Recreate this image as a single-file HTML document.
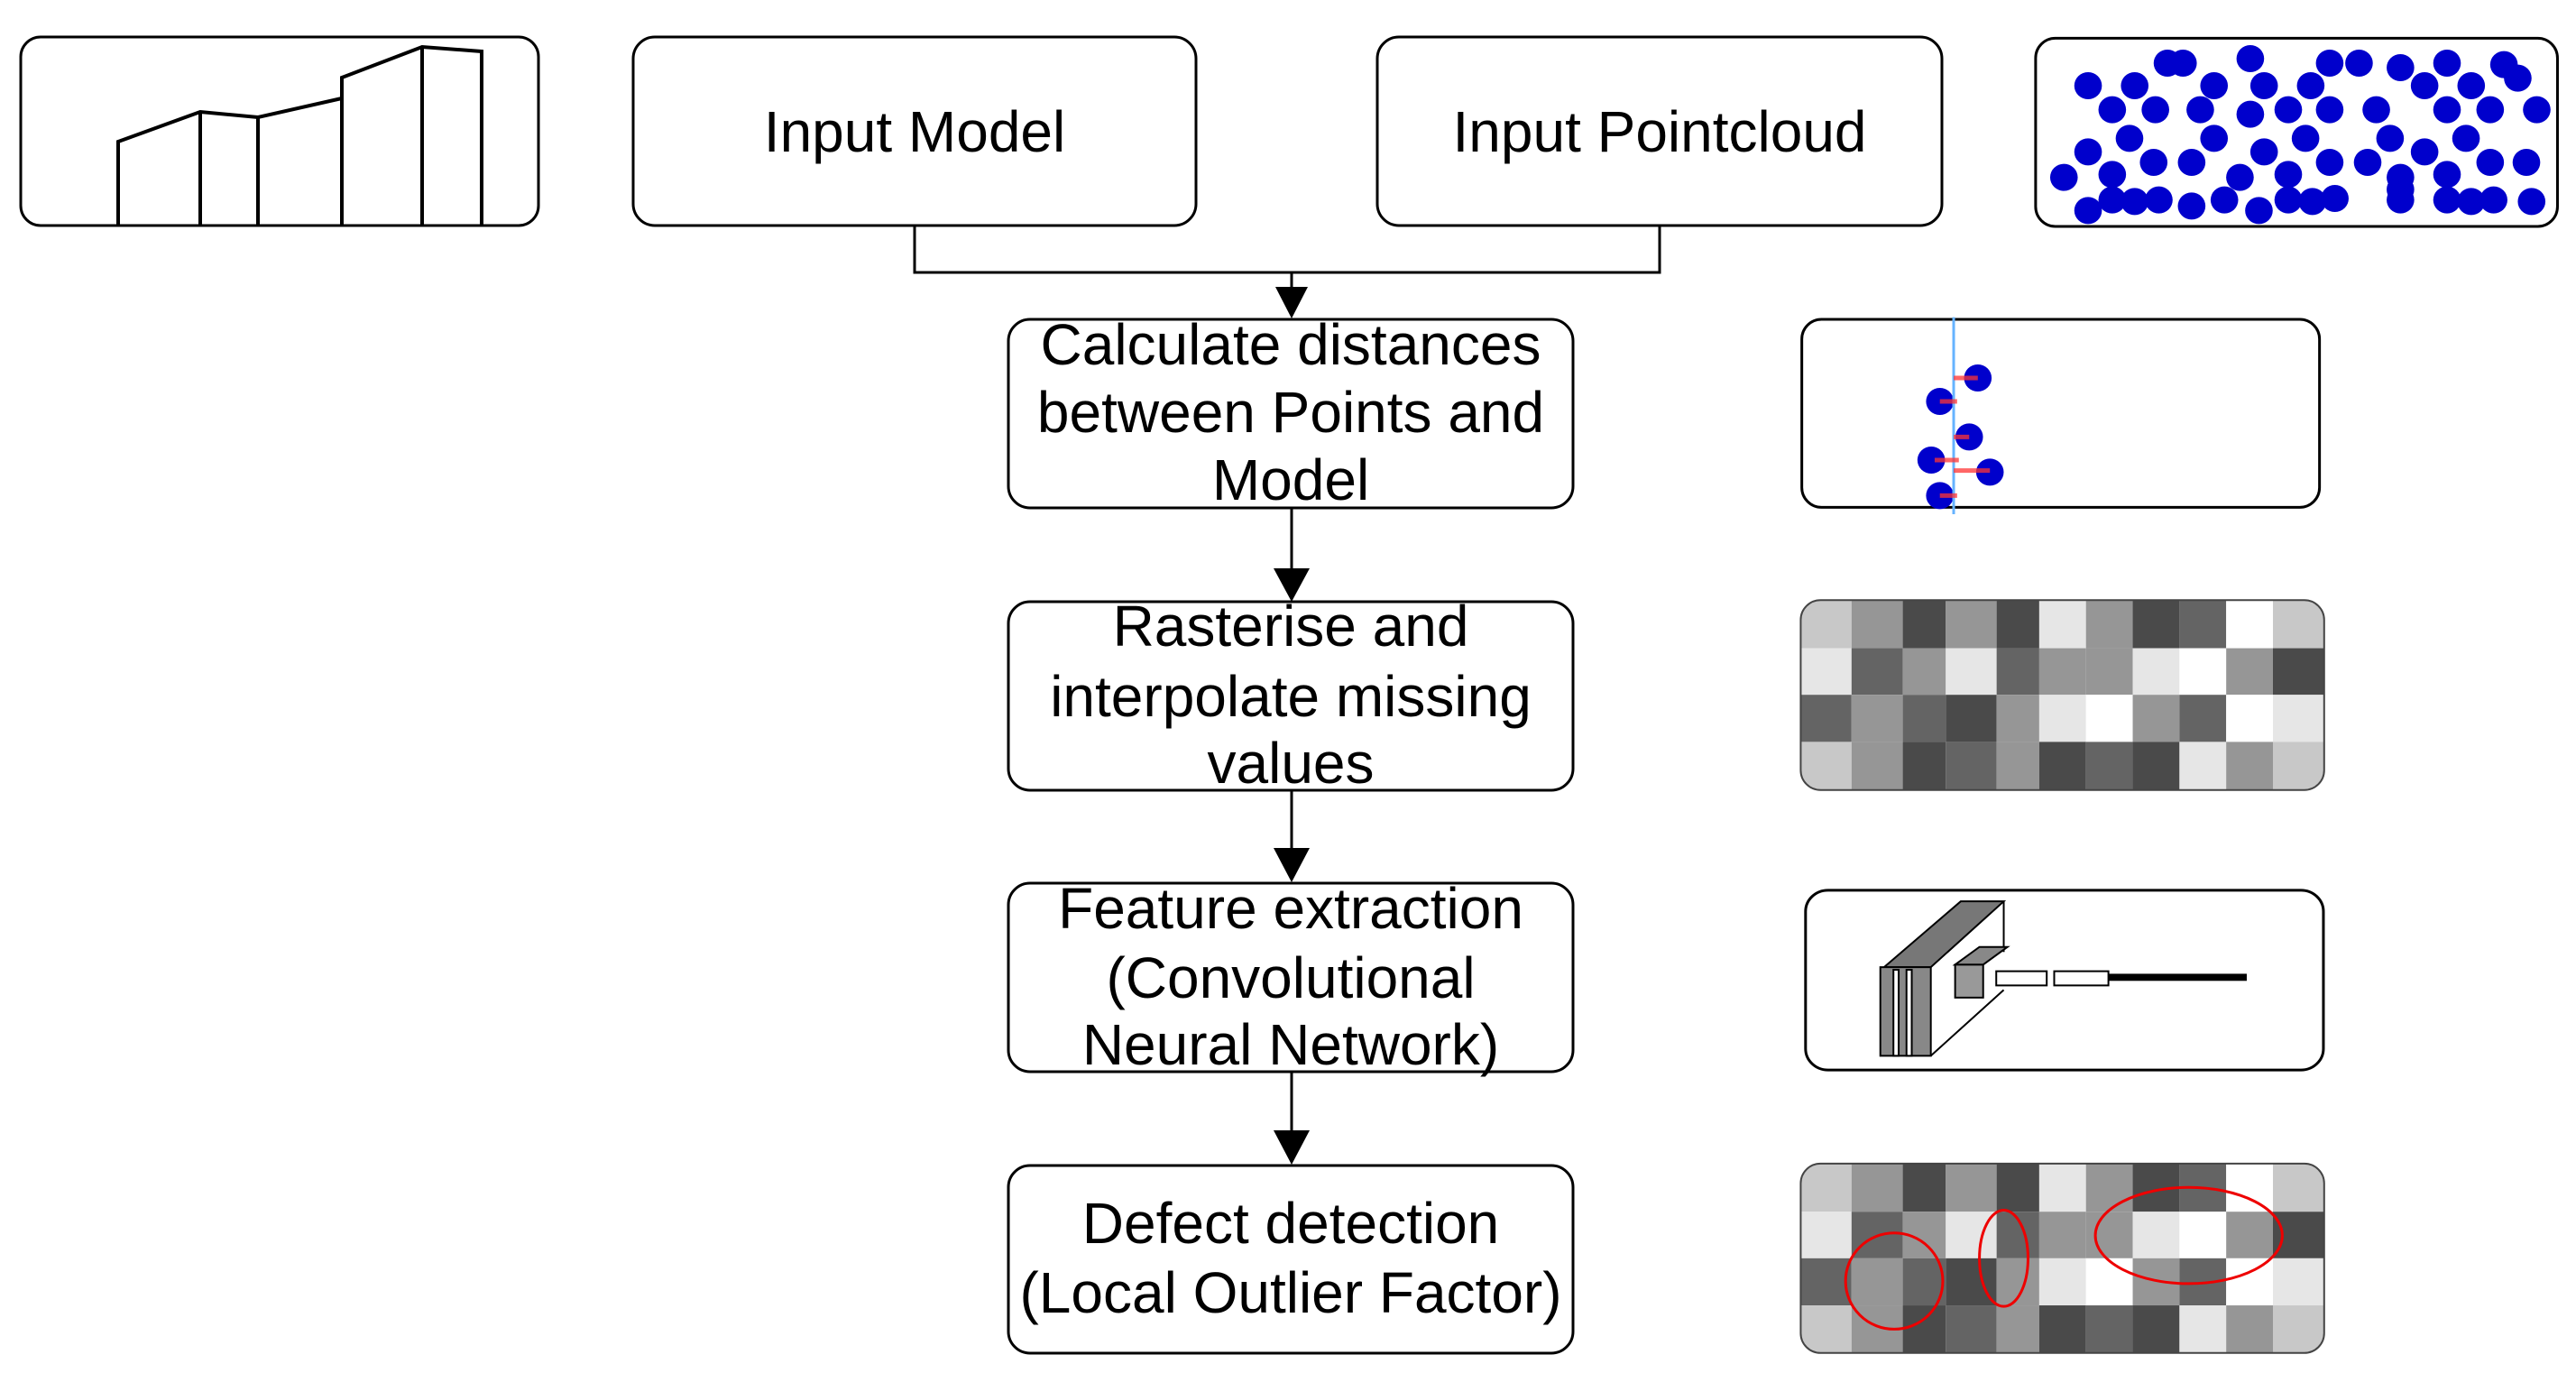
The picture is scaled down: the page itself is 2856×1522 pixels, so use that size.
<!DOCTYPE html>
<html><head><meta charset="utf-8"><style>
html,body{margin:0;padding:0;background:#fff;}
svg{display:block;}
text{font-family:"Liberation Sans",sans-serif;font-size:64px;fill:#000;}
</style></head><body>
<svg width="2856" height="1522" viewBox="0 0 2856 1522" xmlns="http://www.w3.org/2000/svg">
<defs>
<marker id="ah" markerWidth="10" markerHeight="10" refX="9" refY="5" orient="auto" markerUnits="userSpaceOnUse" viewBox="0 0 10 10">
</marker>
</defs>
<rect width="2856" height="1522" fill="#fff"/>

<!-- left model box -->
<rect x="23" y="41" width="574" height="209" rx="22" fill="#fff" stroke="#000" stroke-width="3"/>
<g stroke="#000" stroke-width="4" fill="none">
<polyline points="131,250 131,157 222,124 286,130 379,109 379,86 468,52 534,57 534,250"/>
<line x1="222" y1="124" x2="222" y2="250"/>
<line x1="286" y1="130" x2="286" y2="250"/>
<line x1="379" y1="109" x2="379" y2="250"/>
<line x1="468" y1="52" x2="468" y2="250"/>
</g>

<!-- Input boxes -->
<rect x="702" y="41" width="624" height="209" rx="24" fill="#fff" stroke="#000" stroke-width="3"/>
<text x="1014" y="168" text-anchor="middle">Input Model</text>
<rect x="1527" y="41" width="626" height="209" rx="24" fill="#fff" stroke="#000" stroke-width="3"/>
<text x="1840" y="168" text-anchor="middle">Input Pointcloud</text>

<!-- connectors -->
<g stroke="#000" stroke-width="3" fill="none">
<polyline points="1014,250 1014,302 1840,302 1840,250"/>
<line x1="1432" y1="302" x2="1432" y2="330"/>
<line x1="1432" y1="563" x2="1432" y2="640"/>
<line x1="1432" y1="876" x2="1432" y2="950"/>
<line x1="1432" y1="1188" x2="1432" y2="1263"/>
</g>
<g fill="#000">
<polygon points="1414,318 1450,318 1432,353"/>
<polygon points="1412,630 1452,630 1432,667"/>
<polygon points="1412,940 1452,940 1432,978"/>
<polygon points="1412,1253 1452,1253 1432,1291"/>
</g>

<!-- process boxes -->
<rect x="1118" y="354" width="626" height="209" rx="24" fill="#fff" stroke="#000" stroke-width="3"/>
<text text-anchor="middle"><tspan x="1431" y="404">Calculate distances</tspan><tspan x="1431" y="479">between Points and</tspan><tspan x="1431" y="554">Model</tspan></text>
<rect x="1118" y="667" width="626" height="209" rx="24" fill="#fff" stroke="#000" stroke-width="3"/>
<text text-anchor="middle"><tspan x="1431" y="716">Rasterise and</tspan><tspan x="1431" y="794">interpolate missing</tspan><tspan x="1431" y="868">values</tspan></text>
<rect x="1118" y="979" width="626" height="209" rx="24" fill="#fff" stroke="#000" stroke-width="3"/>
<text text-anchor="middle"><tspan x="1431" y="1029">Feature extraction</tspan><tspan x="1431" y="1106">(Convolutional</tspan><tspan x="1431" y="1180">Neural Network)</tspan></text>
<rect x="1118" y="1292" width="626" height="208" rx="24" fill="#fff" stroke="#000" stroke-width="3"/>
<text text-anchor="middle"><tspan x="1431" y="1378">Defect detection</tspan><tspan x="1431" y="1455">(Local Outlier Factor)</tspan></text>

<!-- pointcloud icon -->
<svg x="2250" y="30" width="600" height="230" viewBox="0 0 1568 690" preserveAspectRatio="none">
<rect x="18" y="37" width="1512" height="626" rx="57" ry="66" fill="#fff" stroke="#000" stroke-width="3" vector-effect="non-scaling-stroke"/>
<g fill="#0000cc">
<ellipse cx="400" cy="120" rx="40" ry="45"/><ellipse cx="445" cy="120" rx="40" ry="45"/>
<ellipse cx="640" cy="105" rx="40" ry="45"/><ellipse cx="870" cy="120" rx="40" ry="45"/><ellipse cx="955" cy="120" rx="40" ry="45"/>
<ellipse cx="1075" cy="135" rx="40" ry="45"/><ellipse cx="1210" cy="120" rx="40" ry="45"/><ellipse cx="1375" cy="125" rx="40" ry="45"/><ellipse cx="1415" cy="170" rx="40" ry="45"/>
<ellipse cx="170" cy="195" rx="40" ry="45"/><ellipse cx="305" cy="195" rx="40" ry="45"/><ellipse cx="535" cy="195" rx="40" ry="45"/><ellipse cx="680" cy="195" rx="40" ry="45"/><ellipse cx="815" cy="195" rx="40" ry="45"/><ellipse cx="1145" cy="195" rx="40" ry="45"/><ellipse cx="1280" cy="195" rx="40" ry="45"/>
<ellipse cx="240" cy="275" rx="40" ry="45"/><ellipse cx="365" cy="275" rx="40" ry="45"/><ellipse cx="495" cy="275" rx="40" ry="45"/><ellipse cx="640" cy="290" rx="40" ry="45"/><ellipse cx="750" cy="275" rx="40" ry="45"/><ellipse cx="870" cy="275" rx="40" ry="45"/><ellipse cx="1005" cy="275" rx="40" ry="45"/><ellipse cx="1210" cy="275" rx="40" ry="45"/><ellipse cx="1335" cy="275" rx="40" ry="45"/><ellipse cx="1470" cy="275" rx="40" ry="45"/>
<ellipse cx="290" cy="370" rx="40" ry="45"/><ellipse cx="535" cy="370" rx="40" ry="45"/><ellipse cx="800" cy="370" rx="40" ry="45"/><ellipse cx="1045" cy="370" rx="40" ry="45"/><ellipse cx="1265" cy="370" rx="40" ry="45"/>
<ellipse cx="170" cy="415" rx="40" ry="45"/><ellipse cx="360" cy="450" rx="40" ry="45"/><ellipse cx="470" cy="450" rx="40" ry="45"/><ellipse cx="680" cy="415" rx="40" ry="45"/><ellipse cx="870" cy="450" rx="40" ry="45"/><ellipse cx="980" cy="450" rx="40" ry="45"/><ellipse cx="1145" cy="415" rx="40" ry="45"/><ellipse cx="1335" cy="450" rx="40" ry="45"/><ellipse cx="1440" cy="450" rx="40" ry="45"/>
<ellipse cx="100" cy="500" rx="40" ry="45"/><ellipse cx="240" cy="490" rx="40" ry="45"/><ellipse cx="610" cy="500" rx="40" ry="45"/><ellipse cx="750" cy="490" rx="40" ry="45"/><ellipse cx="1075" cy="500" rx="40" ry="45"/><ellipse cx="1210" cy="490" rx="40" ry="45"/>
<ellipse cx="170" cy="610" rx="40" ry="45"/><ellipse cx="240" cy="575" rx="40" ry="45"/><ellipse cx="305" cy="580" rx="40" ry="45"/><ellipse cx="375" cy="575" rx="40" ry="45"/><ellipse cx="470" cy="595" rx="40" ry="45"/><ellipse cx="565" cy="575" rx="40" ry="45"/><ellipse cx="665" cy="610" rx="40" ry="45"/><ellipse cx="750" cy="575" rx="40" ry="45"/><ellipse cx="820" cy="580" rx="40" ry="45"/><ellipse cx="885" cy="570" rx="40" ry="45"/><ellipse cx="1075" cy="575" rx="40" ry="45"/><ellipse cx="1075" cy="540" rx="40" ry="45"/><ellipse cx="1210" cy="575" rx="40" ry="45"/><ellipse cx="1280" cy="580" rx="40" ry="45"/><ellipse cx="1345" cy="575" rx="40" ry="45"/><ellipse cx="1455" cy="580" rx="40" ry="45"/>
</g>
</svg>

<!-- distances icon -->
<svg x="1990" y="340" width="600" height="240" viewBox="0 0 1568 720" preserveAspectRatio="none">
<rect x="20" y="42" width="1500" height="625" rx="57" ry="66" fill="#fff" stroke="#000" stroke-width="3" vector-effect="non-scaling-stroke"/>
<g fill="#0000cc">
<ellipse cx="530" cy="237" rx="40" ry="45"/><ellipse cx="420" cy="315" rx="40" ry="45"/><ellipse cx="505" cy="433" rx="40" ry="45"/><ellipse cx="395" cy="510" rx="40" ry="45"/><ellipse cx="565" cy="550" rx="40" ry="45"/><ellipse cx="420" cy="628" rx="40" ry="45"/>
</g>
<line x1="460" y1="35" x2="460" y2="690" stroke="#66b3ff" stroke-width="3" vector-effect="non-scaling-stroke"/>
<g stroke="#ff3333" stroke-width="5" stroke-opacity="0.75" vector-effect="non-scaling-stroke">
<line x1="460" y1="237" x2="530" y2="237" vector-effect="non-scaling-stroke"/>
<line x1="420" y1="315" x2="470" y2="315" vector-effect="non-scaling-stroke"/>
<line x1="460" y1="433" x2="505" y2="433" vector-effect="non-scaling-stroke"/>
<line x1="405" y1="510" x2="475" y2="510" vector-effect="non-scaling-stroke"/>
<line x1="460" y1="545" x2="565" y2="545" vector-effect="non-scaling-stroke"/>
<line x1="420" y1="628" x2="470" y2="628" vector-effect="non-scaling-stroke"/>
</g>
</svg>

<!-- raster, CNN, defect icons -->
<svg x="1950" y="640" width="650" height="880" viewBox="0 0 1568 1568" preserveAspectRatio="none">
<defs>
<clipPath id="c1"><rect x="112" y="45" width="1400" height="375" rx="53" ry="39"/></clipPath>
<clipPath id="c2"><rect x="112" y="1158" width="1400" height="374" rx="53" ry="39"/></clipPath>
<g id="grid">
<rect x="112" y="0" width="136" height="95" fill="#c8c8c8"/><rect x="248" y="0" width="137" height="95" fill="#969696"/><rect x="385" y="0" width="115" height="95" fill="#4a4a4a"/><rect x="500" y="0" width="136" height="95" fill="#969696"/><rect x="636" y="0" width="114" height="95" fill="#4a4a4a"/><rect x="750" y="0" width="125" height="95" fill="#e6e6e6"/><rect x="875" y="0" width="125" height="95" fill="#969696"/><rect x="1000" y="0" width="125" height="95" fill="#4a4a4a"/><rect x="1125" y="0" width="125" height="95" fill="#646464"/><rect x="1250" y="0" width="125" height="95" fill="#ffffff"/><rect x="1375" y="0" width="137" height="95" fill="#c8c8c8"/>
<rect x="112" y="95" width="136" height="92" fill="#e6e6e6"/><rect x="248" y="95" width="137" height="92" fill="#646464"/><rect x="385" y="95" width="115" height="92" fill="#969696"/><rect x="500" y="95" width="136" height="92" fill="#e6e6e6"/><rect x="636" y="95" width="114" height="92" fill="#646464"/><rect x="750" y="95" width="125" height="92" fill="#969696"/><rect x="875" y="95" width="125" height="92" fill="#969696"/><rect x="1000" y="95" width="125" height="92" fill="#e6e6e6"/><rect x="1125" y="95" width="125" height="92" fill="#ffffff"/><rect x="1250" y="95" width="125" height="92" fill="#969696"/><rect x="1375" y="95" width="137" height="92" fill="#4a4a4a"/>
<rect x="112" y="187" width="136" height="93" fill="#646464"/><rect x="248" y="187" width="137" height="93" fill="#969696"/><rect x="385" y="187" width="115" height="93" fill="#646464"/><rect x="500" y="187" width="136" height="93" fill="#4a4a4a"/><rect x="636" y="187" width="114" height="93" fill="#969696"/><rect x="750" y="187" width="125" height="93" fill="#e6e6e6"/><rect x="875" y="187" width="125" height="93" fill="#ffffff"/><rect x="1000" y="187" width="125" height="93" fill="#969696"/><rect x="1125" y="187" width="125" height="93" fill="#646464"/><rect x="1250" y="187" width="125" height="93" fill="#ffffff"/><rect x="1375" y="187" width="137" height="93" fill="#e6e6e6"/>
<rect x="112" y="280" width="136" height="95" fill="#c8c8c8"/><rect x="248" y="280" width="137" height="95" fill="#969696"/><rect x="385" y="280" width="115" height="95" fill="#4a4a4a"/><rect x="500" y="280" width="136" height="95" fill="#646464"/><rect x="636" y="280" width="114" height="95" fill="#969696"/><rect x="750" y="280" width="125" height="95" fill="#4a4a4a"/><rect x="875" y="280" width="125" height="95" fill="#646464"/><rect x="1000" y="280" width="125" height="95" fill="#4a4a4a"/><rect x="1125" y="280" width="125" height="95" fill="#e6e6e6"/><rect x="1250" y="280" width="125" height="95" fill="#969696"/><rect x="1375" y="280" width="137" height="95" fill="#c8c8c8"/>
</g>
</defs>
<g clip-path="url(#c1)"><use href="#grid" y="45"/></g>
<rect x="112" y="45" width="1400" height="375" rx="53" ry="39" fill="none" stroke="#444" stroke-width="2" vector-effect="non-scaling-stroke"/>
<g clip-path="url(#c2)"><use href="#grid" y="1158"/></g>
<rect x="112" y="1158" width="1400" height="374" rx="53" ry="39" fill="none" stroke="#444" stroke-width="2" vector-effect="non-scaling-stroke"/>
<g fill="none" stroke="#ee0000" stroke-width="3">
<ellipse cx="362" cy="1390" rx="130" ry="95" vector-effect="non-scaling-stroke"/>
<ellipse cx="655" cy="1345" rx="65" ry="95" vector-effect="non-scaling-stroke"/>
<ellipse cx="1150" cy="1300" rx="250" ry="95" vector-effect="non-scaling-stroke"/>
</g>
<!-- CNN -->
<rect x="125" y="618" width="1385" height="355" rx="60" ry="42" fill="#fff" stroke="#000" stroke-width="3" vector-effect="non-scaling-stroke"/>
<g stroke="#000" stroke-width="2" vector-effect="non-scaling-stroke">
<polygon points="335,770 540,640 655,640 460,770" fill="#777" vector-effect="non-scaling-stroke"/>
<rect x="325" y="770" width="135" height="175" fill="#888" vector-effect="non-scaling-stroke"/>
<rect x="360" y="775" width="14" height="170" fill="#fff" vector-effect="non-scaling-stroke"/>
<rect x="395" y="775" width="14" height="170" fill="#fff" vector-effect="non-scaling-stroke"/>
<line x1="655" y1="640" x2="655" y2="740" vector-effect="non-scaling-stroke"/>
<line x1="460" y1="945" x2="655" y2="815" vector-effect="non-scaling-stroke"/>
<polygon points="525,765 590,730 665,730 600,765" fill="#888" vector-effect="non-scaling-stroke"/>
<rect x="525" y="765" width="75" height="65" fill="#999" vector-effect="non-scaling-stroke"/>
<rect x="635" y="778" width="135" height="28" fill="#fff" vector-effect="non-scaling-stroke"/>
<rect x="790" y="778" width="145" height="28" fill="#fff" vector-effect="non-scaling-stroke"/>
</g>
<rect x="935" y="783" width="370" height="14" fill="#000"/>
</svg>
</svg>
</body></html>
